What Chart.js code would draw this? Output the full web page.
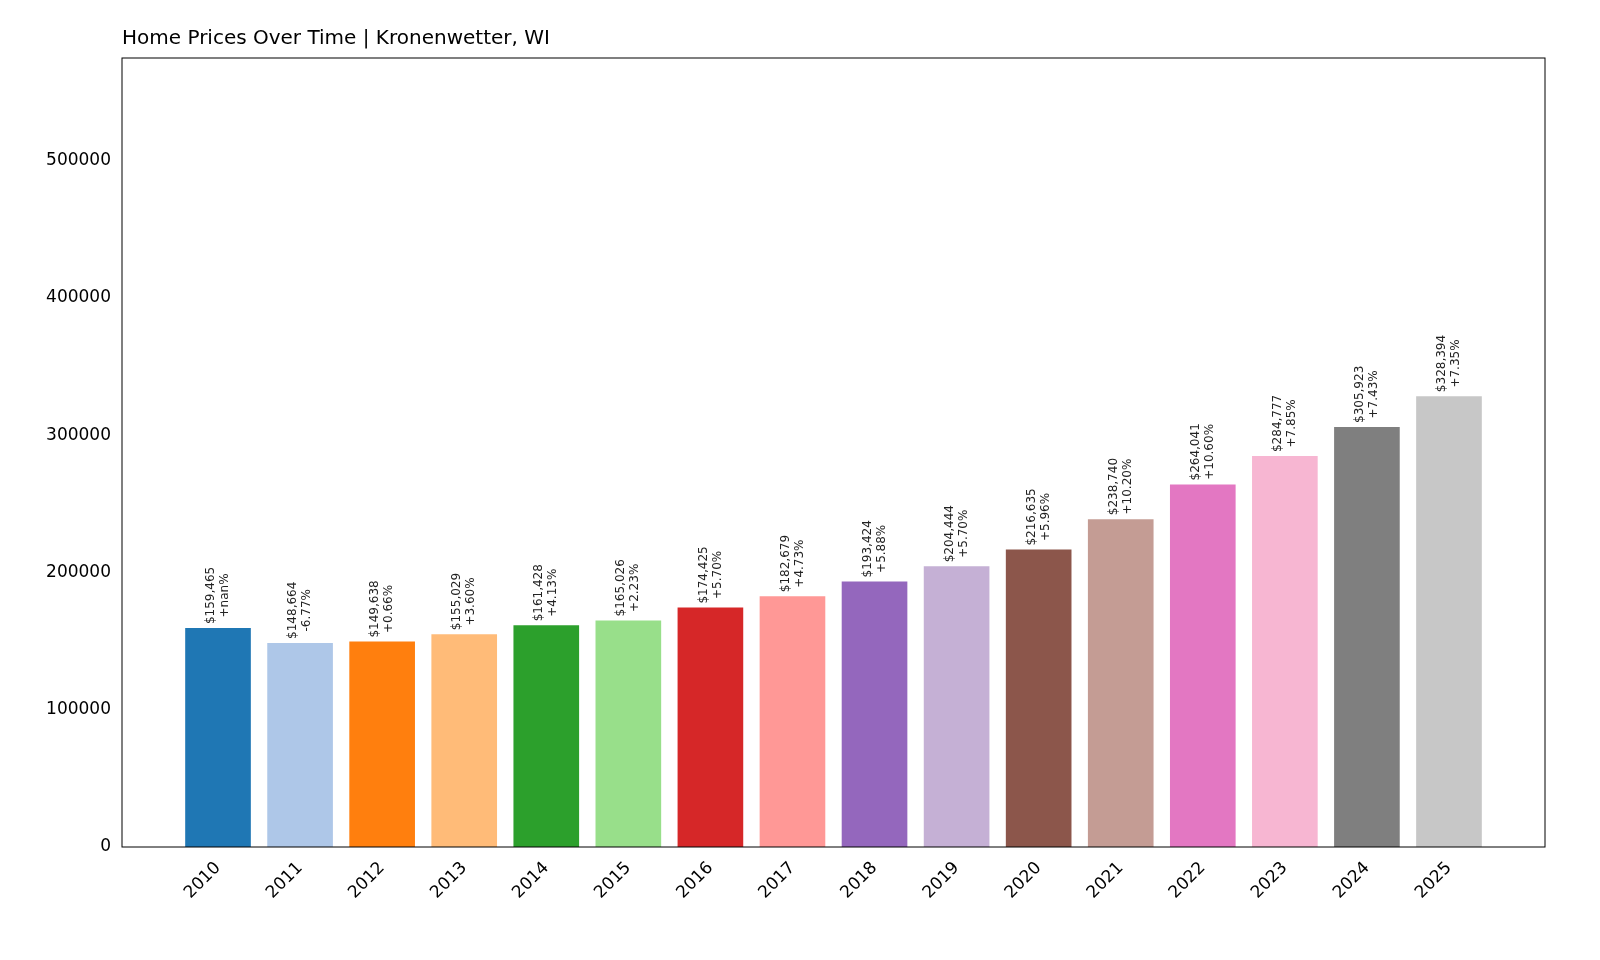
<!DOCTYPE html>
<html>
<head>
<meta charset="utf-8">
<script src="https://cdn.jsdelivr.net/npm/chart.js@4"></script>
<style>
  html, body { margin: 0; padding: 0; background: #fff; }
  #wrap { width: 1600px; height: 960px; }
</style>
</head>
<body>
<div id="wrap"><canvas id="c" width="1600" height="960"></canvas></div>
<script>
const years = ['2010','2011','2012','2013','2014','2015','2016','2017','2018','2019','2020','2021','2022','2023','2024','2025'];
const prices = [159465, 148664, 149638, 155029, 161428, 165026, 174425, 182679, 193424, 204444, 216635, 238740, 264041, 284777, 305923, 328394];
const changes = ['+nan%', '-6.77%', '+0.66%', '+3.60%', '+4.13%', '+2.23%', '+5.70%', '+4.73%', '+5.88%', '+5.70%', '+5.96%', '+10.20%', '+10.60%', '+7.85%', '+7.43%', '+7.35%'];
const colors = ['#1f77b4','#aec7e8','#ff7f0e','#ffbb78','#2ca02c','#98df8a','#d62728','#ff9896','#9467bd','#c5b0d5','#8c564b','#c49c94','#e377c2','#f7b6d2','#7f7f7f','#c7c7c7'];
const yTicks = [0, 100000, 200000, 300000, 400000, 500000];

const FONT = '"DejaVu Sans", sans-serif';

// frame, title and value labels
const decor = {
  id: 'decor',
  afterDatasetsDraw(chart) {
    const ctx = chart.ctx;
    const a = chart.chartArea;
    ctx.save();
    ctx.strokeStyle = '#000';
    ctx.lineWidth = 1;
    ctx.strokeRect(a.left, a.top, a.right - a.left, a.bottom - a.top);

    ctx.fillStyle = '#000';
    ctx.font = '20px ' + FONT;
    ctx.textAlign = 'left';
    ctx.textBaseline = 'alphabetic';
    ctx.fillText('Home Prices Over Time | Kronenwetter, WI', a.left, 44);

    ctx.font = '12px ' + FONT;
    chart.getDatasetMeta(0).data.forEach((bar, i) => {
      const lines = ['$' + prices[i].toLocaleString('en-US'), changes[i]];
      const w = Math.max(...lines.map(l => ctx.measureText(l).width));
      ctx.save();
      ctx.translate(bar.x, bar.y - 4);
      ctx.rotate(-Math.PI / 2);
      ctx.textAlign = 'center';
      ctx.textBaseline = 'middle';
      ctx.fillStyle = '#222';
      ctx.fillText(lines[0], w / 2, -7);
      ctx.fillText(lines[1], w / 2, 7);
      ctx.restore();
    });
    ctx.restore();
  }
};

new Chart(document.getElementById('c'), {
  type: 'bar',
  data: {
    datasets: [{
      data: prices.map((p, i) => ({ x: i, y: p })),
      backgroundColor: colors,
      barPercentage: 1,
      categoryPercentage: 0.8
    }]
  },
  options: {
    responsive: false,
    animation: false,
    layout: { padding: { top: 58, right: 55, left: 0, bottom: 0 } },
    plugins: { legend: { display: false }, tooltip: { enabled: false } },
    scales: {
      x: {
        type: 'linear',
        offset: false,
        min: -1.17,
        max: 16.17,
        grid: { display: false, offset: false },
        border: { display: false },
        afterBuildTicks(s) { s.ticks = years.map((y, i) => ({ value: i })); },
        afterFit(s) { s.height = 113; },
        ticks: {
          autoSkip: false,
          maxRotation: 45,
          minRotation: 45,
          color: '#000',
          font: { size: 17, family: FONT },
          callback: v => years[v]
        }
      },
      y: {
        min: 0,
        max: 574690,
        grid: { display: false },
        border: { display: false },
        afterBuildTicks(s) { s.ticks = yTicks.map(v => ({ value: v })); },
        afterFit(s) { s.width = 122; },
        ticks: {
          color: '#000',
          font: { size: 17, family: FONT },
          callback: v => String(v)
        }
      }
    }
  },
  plugins: [decor]
});
</script>
</body>
</html>
